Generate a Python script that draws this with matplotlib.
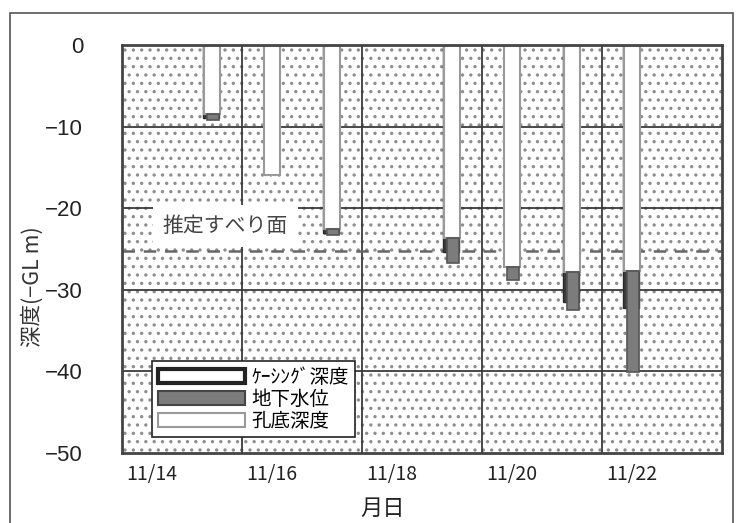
import numpy as np
from matplotlib import pyplot as plt
from matplotlib.patches import Patch, Rectangle

plt.rcParams['font.family'] = ['Noto Sans CJK JP', 'DejaVu Sans']
plt.rcParams['hatch.color'] = '#8e8e8e'
plt.rcParams['hatch.linewidth'] = 1.2

# observation days (November)
days = [15, 16, 17, 19, 20, 21, 22]
casing_depth = [-9.0, np.nan, -23.0, -25.4, np.nan, -31.5, -32.2]
water_level = [-8.5, np.nan, -22.5, -23.6, -27.2, -27.8, -27.7]
hole_depth = [-9.2, -15.9, -23.3, -26.7, -28.8, -32.5, -40.1]
slip_surface = -25.3

xticks = [14, 16, 18, 20, 22]
xticklabels = ['11/14', '11/16', '11/18', '11/20', '11/22']
yticks = [0, -10, -20, -30, -40, -50]

days = np.array(days, dtype=float)
casing_depth = np.array(casing_depth)
water_level = np.array(water_level)
hole_depth = np.array(hole_depth)

fig = plt.figure(figsize=(7.36, 5.23), dpi=100)
ax = fig.add_axes([122/736, 1 - 453/523, 600/736, 408/523])

# outer frame of the whole chart
fig.patches.append(Rectangle((10/736, -0.05), 723/736, 1.05 - 13/523,
                             transform=fig.transFigure, fill=False,
                             edgecolor='#555555', linewidth=1.2))

# dotted background
ax.add_patch(Rectangle((0, 0), 1, 1, transform=ax.transAxes, facecolor='white',
                       edgecolor='#8e8e8e', linewidth=0, hatch='..', zorder=0))

# grid
for y in [-10, -20, -30, -40]:
    ax.axhline(y, color='#3a3a3a', lw=1.3, zorder=1)
for x in np.arange(15.5, 23, 2):
    ax.axvline(x, color='#3a3a3a', lw=1.3, zorder=1)

# estimated slip surface
ax.axhline(slip_surface, color='#666666', lw=1.8, dashes=(5, 3.5), zorder=2)
ax.text(15.22, -22.2, '推定すべり面', ha='center', va='center', fontsize=15,
        color='#444444', zorder=6,
        bbox=dict(facecolor='white', edgecolor='none', pad=7))

# bars
top = np.where(np.isnan(water_level), hole_depth, water_level)
ax.bar(days - 0.02, casing_depth, width=0.27, color='#3c3c3c',
       edgecolor='#2a2a2a', lw=1, zorder=3)
ax.bar(days, top, width=0.27, color='white', edgecolor='#9a9a9a', lw=1.5, zorder=4)
wet = ~np.isnan(water_level)
ax.bar(days[wet] + 0.02, hole_depth[wet] - water_level[wet], bottom=water_level[wet],
       width=0.2, color='#7c7c7c', edgecolor='#555555', lw=1.2, zorder=4)

ax.set_xlim(13.5, 23.5)
ax.set_ylim(-50, 0)
ax.set_xticks(xticks)
ax.set_xticklabels(xticklabels, fontsize=14, color='#222222')
ax.set_yticks(yticks)
ax.set_yticklabels(['0', '−10', '−20', '−30', '−40', '−50'], fontsize=16,
                   color='#222222', family='Liberation Sans')
ax.tick_params(axis='both', length=0)
ax.tick_params(axis='y', pad=28)
ax.tick_params(axis='x', pad=8)
for s in ax.spines.values():
    s.set_color('#444444')
    s.set_linewidth(2)
    s.set_zorder(7)

fig.text(383/736, 1 - 508/523, '月日', ha='center', va='center', fontsize=16, color='#222222')
fig.text(33/736, 1 - 287/523, '深度(−GL m)', ha='center', va='center', rotation=90,
         fontsize=15.5, color='#333333')

handles = [Patch(facecolor='white', edgecolor='#222222', lw=3),
           Patch(facecolor='#7c7c7c', edgecolor='#444444', lw=1.5),
           Patch(facecolor='white', edgecolor='#9a9a9a', lw=1.5)]
labels = ['ｹｰｼﾝｸﾞ深度', '地下水位', '孔底深度']
leg = ax.legend(handles, labels, loc='lower left', bbox_to_anchor=(0.05, 0.038),
                fontsize=14, frameon=True, fancybox=False, framealpha=1,
                edgecolor='#222222', handlelength=4.5, handleheight=0.75,
                labelspacing=0.05, borderpad=0.3, handletextpad=0.3,
                borderaxespad=0)
leg.set_zorder(8)
leg.get_frame().set_linewidth(1.2)

fig.savefig('out.png', dpi=100)
